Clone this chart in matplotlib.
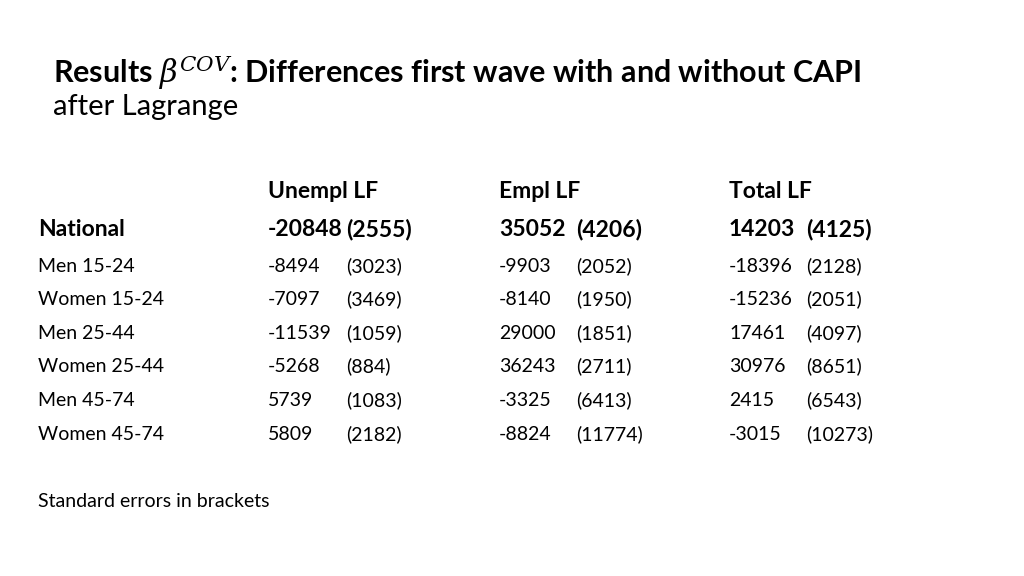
import matplotlib.pyplot as plt

# Data
groups = ["Men 15-24", "Women 15-24", "Men 25-44", "Women 25-44", "Men 45-74", "Women 45-74"]
unempl = [-8494, -7097, -11539, -5268, 5739, 5809]
unempl_se = [3023, 3469, 1059, 884, 1083, 2182]
empl = [-9903, -8140, 29000, 36243, -3325, -8824]
empl_se = [2052, 1950, 1851, 2711, 6413, 11774]
total = [-18396, -15236, 17461, 30976, 2415, -3015]
total_se = [2128, 2051, 4097, 8651, 6543, 10273]
headers = ["Unempl LF", "Empl LF", "Total LF"]
national = [(-20848, 2555), (35052, 4206), (14203, 4125)]

W, H = 1024, 576
fig = plt.figure(figsize=(W / 100, H / 100), dpi=100)
plt.rcParams["font.family"] = "Lato"
plt.rcParams["mathtext.fontset"] = "dejavuserif"


def txt(x, y, s, size=14, bold=False):
    fig.text(x / W, 1 - y / H, s, fontsize=size, va="center_baseline", ha="left",
             fontweight="bold" if bold else "normal", color="black")


txt(53, 68, "Results $\\beta^{COV}$: Differences first wave with and without CAPI", 22, True)
txt(53, 104, "after Lagrange", 21)

col_x = [(268, 346), (499, 576), (729, 806)]
for (xv, _), h in zip(col_x, headers):
    txt(xv, 190, h, 16.5, True)

txt(38, 228, "National", 16.5, True)
for (xv, xs), (v, se) in zip(col_x, national):
    txt(xv, 228, str(v), 16.5, True)
    txt(xs, 228, f"({se})", 16.5, True)

rows_y = [265, 298, 332, 365, 399, 433]
for i, y in enumerate(rows_y):
    txt(38, y, groups[i])
    for (xv, xs), vals, ses in zip(col_x, [unempl, empl, total], [unempl_se, empl_se, total_se]):
        txt(xv, y, str(vals[i]))
        txt(xs, y, f"({ses[i]})")

txt(38, 500, "Standard errors in brackets")

fig.savefig("out.png", dpi=100)
